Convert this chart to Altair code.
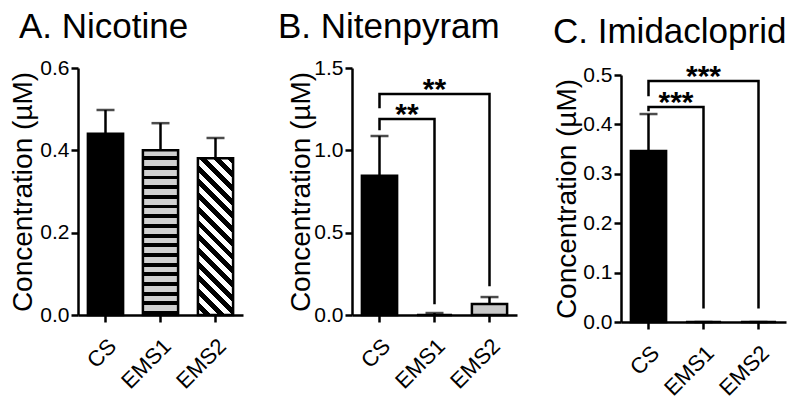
import altair as alt
import pandas as pd

# ---------------- data ----------------
categories = ["CS", "EMS1", "EMS2"]

nicotine_mean = [0.440, 0.400, 0.381]
nicotine_sem = [0.058, 0.066, 0.049]

nitenpyram_mean = [0.845, 0.0, 0.067]
nitenpyram_sem = [0.242, 0.012, 0.042]

imidacloprid_mean = [0.346, 0.0, 0.0]
imidacloprid_sem = [0.075, 0.0, 0.0]

panel_titles = ["A. Nicotine", "B. Nitenpyram", "C. Imidacloprid"]
y_domains = [[0, 0.6], [0, 1.5], [0, 0.5]]
y_ticks = [[0.0, 0.2, 0.4, 0.6],
           [0.0, 0.5, 1.0, 1.5],
           [0.0, 0.1, 0.2, 0.3, 0.4, 0.5]]
y_title = "Concentration (\u00b5M)"

# significance brackets
nitenpyram_br_from = ["CS", "CS"]
nitenpyram_br_to = ["EMS1", "EMS2"]
nitenpyram_br_y = [1.19, 1.342]
nitenpyram_br_left = [1.13, 1.263]
nitenpyram_br_right = [0.073, 0.182]
nitenpyram_br_label = ["**", "**"]

imidacloprid_br_from = ["CS", "CS"]
imidacloprid_br_to = ["EMS1", "EMS2"]
imidacloprid_br_y = [0.435, 0.488]
imidacloprid_br_left = [0.429, 0.4595]
imidacloprid_br_right = [0.030, 0.030]
imidacloprid_br_label = ["***", "***"]

# ---------------- layout / style ----------------
W, H = 165, 247
PI, PO = 0.36, 0.18
step = W / (len(categories) - PI + 2 * PO)
bandwidth = step * (1 - PI)
FONT = "Liberation Sans"
LW = 2.5


def stripe_stops(n, c1, c2, frac):
    stops = []
    for k in range(n):
        a, b, c = k / n, (k + frac) / n, (k + 1) / n
        stops += [alt.GradientStop(color=c1, offset=a),
                  alt.GradientStop(color=c1, offset=b),
                  alt.GradientStop(color=c2, offset=b),
                  alt.GradientStop(color=c2, offset=c)]
    return stops


def hstripe_fill():
    return alt.Gradient(gradient="linear", x1=0, y1=0, x2=0, y2=1,
                        stops=stripe_stops(17, "#d0d0d0", "#000000", 0.6))


def diag_fill(value, ymax):
    w = bandwidth
    h = value / ymax * H
    k = (w + h) / (w * w + h * h)
    n = max(1, round((w + h) / 14.0))
    return alt.Gradient(gradient="linear", x1=0, y1=1, x2=k * w, y2=1 - k * h,
                        stops=stripe_stops(n, "#ffffff", "#000000", 0.5))


def make_panel(idx, means, sems, fills, br, title_dx, ytitle_x, top_shift):
    df = pd.DataFrame({"cat": categories, "mean": means, "sem": sems})
    xscale = alt.Scale(domain=categories, paddingInner=PI, paddingOuter=PO)
    yscale = alt.Scale(domain=y_domains[idx], nice=False, zero=True,
                       range=[H + top_shift, top_shift])
    xaxis = alt.Axis(title=None, labelAngle=-45, labelAlign="right", labelBaseline="top",
                     labelFontSize=22, labelFont=FONT, labelColor="black", labelPadding=13,
                     tickSize=7, tickWidth=LW, tickColor="black",
                     domainWidth=LW, domainColor="black", grid=False)
    yaxis = alt.Axis(title=y_title, values=y_ticks[idx], format=".1f",
                     titleFontSize=28, titleFont=FONT, titleFontWeight="normal", titleColor="black",
                     titleX=ytitle_x, titleY=top_shift + H / 2, titleAngle=270, titleAlign="center",
                     titleBaseline="alphabetic",
                     labelFontSize=21, labelFont=FONT, labelColor="black", labelPadding=2,
                     tickSize=7, tickWidth=LW, tickColor="black",
                     domainWidth=LW, domainColor="black", grid=False)
    xenc = alt.X("cat:N", sort=categories, scale=xscale, axis=xaxis)
    base = alt.Chart(df)

    layers = []
    for cat, fill in zip(categories, fills):
        layers.append(
            base.transform_filter(alt.datum.cat == cat)
            .mark_bar(stroke="black", strokeWidth=LW, fill=fill)
            .encode(x=xenc, y=alt.Y("mean:Q", scale=yscale, axis=yaxis))
        )
    err = base.transform_calculate(top="datum.mean + datum.sem")
    layers.append(err.mark_rule(color="black", strokeWidth=LW)
                  .encode(x=xenc, y=alt.Y("mean:Q", scale=yscale, axis=yaxis), y2="top:Q"))
    layers.append(err.mark_tick(color="black", size=18, thickness=LW)
                  .encode(x=xenc, y=alt.Y("top:Q", scale=yscale, axis=yaxis)))

    if br is not None:
        bfrom, bto, by, bleft, bright, blabel = br
        rows = []
        for i in range(len(bfrom)):
            rows += [{"b": i, "o": 0, "cat": bfrom[i], "v": bleft[i]},
                     {"b": i, "o": 1, "cat": bfrom[i], "v": by[i]},
                     {"b": i, "o": 2, "cat": bto[i], "v": by[i]},
                     {"b": i, "o": 3, "cat": bto[i], "v": bright[i]}]
        bdf = pd.DataFrame(rows)
        layers.append(alt.Chart(bdf).mark_line(color="black", strokeWidth=LW,
                                               strokeJoin="miter", strokeCap="square")
                      .encode(x=xenc, y=alt.Y("v:Q", scale=yscale, axis=yaxis),
                              detail="b:N", order="o:Q"))
        for i in range(len(bfrom)):
            dist = categories.index(bto[i]) - categories.index(bfrom[i])
            sdf = pd.DataFrame({"cat": [bfrom[i]], "v": [by[i]], "lab": [blabel[i]]})
            layers.append(alt.Chart(sdf).mark_text(
                dx=dist * step / 2, dy=5, baseline="alphabetic", align="center",
                fontSize=30, fontWeight="bold", font=FONT, color="black")
                .encode(x=xenc, y=alt.Y("v:Q", scale=yscale, axis=yaxis), text="lab:N"))

    return alt.layer(*layers).properties(
        width=W, height=H + top_shift,
        title=alt.TitleParams(panel_titles[idx], anchor="start", frame="group",
                              fontSize=35, font=FONT, fontWeight="normal", color="black",
                              dx=title_dx, offset=12),
    )


ymaxA = y_domains[0][1]
panelA = make_panel(0, nicotine_mean, nicotine_sem,
                    ["black", hstripe_fill(), diag_fill(nicotine_mean[2], ymaxA)],
                    None, -59, -47, 0)
panelB = make_panel(1, nitenpyram_mean, nitenpyram_sem,
                    ["black", "black", "#c8c8c8"],
                    (nitenpyram_br_from, nitenpyram_br_to, nitenpyram_br_y,
                     nitenpyram_br_left, nitenpyram_br_right, nitenpyram_br_label),
                    -74, -43, 0)
panelC = make_panel(2, imidacloprid_mean, imidacloprid_sem,
                    ["black", "white", "white"],
                    (imidacloprid_br_from, imidacloprid_br_to, imidacloprid_br_y,
                     imidacloprid_br_left, imidacloprid_br_right, imidacloprid_br_label),
                    -68, -46, 7)

chart = alt.hconcat(panelA, panelB, panelC, spacing=35).properties(
    padding={"left": 0, "top": 2, "right": 0, "bottom": 0}
).configure(background="white").configure_view(strokeWidth=0)

chart.save("out.html", embed_options={"renderer": "svg", "actions": False})
